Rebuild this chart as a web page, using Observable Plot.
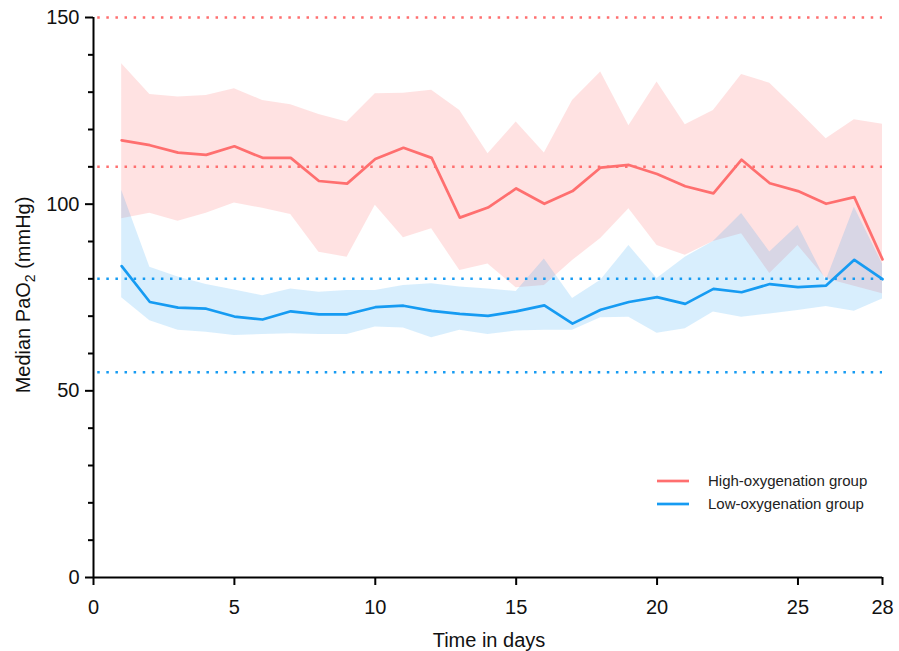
<!DOCTYPE html>
<html><head><meta charset="utf-8">
<script src="https://cdn.jsdelivr.net/npm/d3@7"></script>
<script src="https://cdn.jsdelivr.net/npm/@observablehq/plot@0.6"></script>
<style>
body{margin:0;background:#fff;font-family:"Liberation Sans",Arial,sans-serif}
#chart{position:relative;width:899px;height:651px}
</style>
</head><body><div id="chart"></div>
<script>
const days = [1,2,3,4,5,6,7,8,9,10,11,12,13,14,15,16,17,18,19,20,21,22,23,24,25,26,27,28];
const highMedian = [117.1,115.8,113.8,113.2,115.5,112.4,112.4,106.2,105.5,112.1,115.1,112.4,96.4,99.1,104.2,100.1,103.5,109.8,110.5,108.1,104.8,102.9,111.9,105.6,103.5,100.1,101.9,85.2];
const highUpper = [137.6,129.4,128.7,129.1,130.9,127.8,126.6,124.0,122.0,129.6,129.7,130.5,125.1,113.5,122.0,113.7,127.8,135.4,121.0,132.7,121.3,125.1,134.7,132.4,125.1,117.5,122.6,121.4];
const highLower = [96.1,97.6,95.4,97.6,100.3,98.9,97.2,87.1,85.8,99.7,91.0,93.4,82.2,84.0,77.6,78.2,84.9,90.8,98.8,88.9,86.3,90.0,92.1,81.4,88.9,80.0,78.0,76.0];
const lowMedian = [83.4,73.8,72.3,72.0,69.9,69.1,71.3,70.5,70.5,72.4,72.8,71.4,70.6,70.1,71.3,72.9,68.0,71.7,73.8,75.1,73.3,77.3,76.4,78.6,77.8,78.2,85.1,79.9];
const lowUpper = [103.7,83.1,80.5,78.5,77.0,75.5,77.3,76.4,76.9,76.9,78.2,78.7,77.8,77.3,76.6,85.3,74.7,79.6,88.9,80.1,85.8,90.0,97.5,87.2,94.3,79.5,99.2,84.0];
const lowLower = [74.9,68.8,66.2,65.7,64.8,65.1,65.3,65.1,65.1,67.1,66.8,64.2,66.2,65.1,66.0,66.2,66.2,69.6,69.7,65.4,66.6,71.1,69.7,70.6,71.5,72.6,71.3,74.6];
const highRefs = [150, 110];
const lowRefs = [80, 55];
const xTicks = [0, 5, 10, 15, 20, 25, 28];
const yTicks = [0, 50, 100, 150];
const yMinorTicks = [10, 20, 30, 40, 60, 70, 80, 90, 110, 120, 130, 140];
const seriesNames = ["High-oxygenation group", "Low-oxygenation group"];
const seriesColors = ["#ff6f6f", "#169bf2"];
const xTitle = "Time in days";

const high = days.map((d, i) => ({day: d, med: highMedian[i], lo: highLower[i], hi: highUpper[i]}));
const low = days.map((d, i) => ({day: d, med: lowMedian[i], lo: lowLower[i], hi: lowUpper[i]}));

const ff = '"Liberation Sans", Arial, sans-serif';
const plot = Plot.plot({
  width: 899, height: 651,
  marginLeft: 93, marginRight: 17, marginTop: 17, marginBottom: 74,
  x: {domain: [0, 28]},
  y: {domain: [0, 150]},
  style: {fontFamily: ff, fontSize: "20px", color: "#111", background: "#fff"},
  marks: [
    Plot.areaY(high, {x: "day", y1: "lo", y2: "hi", fill: seriesColors[0], fillOpacity: 0.2}),
    Plot.areaY(low, {x: "day", y1: "lo", y2: "hi", fill: seriesColors[1], fillOpacity: 0.17}),
    Plot.ruleY(highRefs, {stroke: seriesColors[0], strokeWidth: 2.5, strokeDasharray: "2.5,6.6", x1: 0.15, x2: 28}),
    Plot.ruleY(lowRefs, {stroke: seriesColors[1], strokeWidth: 2.5, strokeDasharray: "2.5,6.6", x1: 0.15, x2: 28}),
    Plot.line(high, {x: "day", y: "med", stroke: seriesColors[0], strokeWidth: 2.7}),
    Plot.line(low, {x: "day", y: "med", stroke: seriesColors[1], strokeWidth: 2.7}),
    Plot.axisY({ticks: yMinorTicks, tickSize: 5, text: null, label: null, strokeWidth: 2, stroke: "#000"}),
    Plot.axisY({ticks: yTicks, tickSize: 8, tickPadding: 6, label: null, strokeWidth: 2, stroke: "#000", fontSize: 20}),
    Plot.axisX({ticks: xTicks, tickSize: 8, tickPadding: 14, label: null, strokeWidth: 2, stroke: "#000", fontSize: 20}),
    Plot.ruleX([0], {strokeWidth: 2, stroke: "#000"}),
    Plot.ruleY([0], {strokeWidth: 2, stroke: "#000"})
  ]
});
document.getElementById("chart").appendChild(plot);

const svg = d3.select(plot);
// x axis title
svg.append("text").attr("x", 489).attr("y", 647).attr("text-anchor", "middle")
  .attr("font-family", ff).attr("font-size", 20).attr("fill", "#111").text(xTitle);
// y axis title with subscript
const yt = svg.append("text").attr("transform", "translate(30,295) rotate(-90)")
  .attr("text-anchor", "middle").attr("font-family", ff).attr("font-size", 20).attr("fill", "#111");
yt.append("tspan").text("Median PaO");
yt.append("tspan").attr("font-size", 14).attr("dy", 5).text("2");
yt.append("tspan").attr("dy", -5).text(" (mmHg)");
// legend
seriesNames.forEach((name, i) => {
  const y = 481 + i * 23;
  svg.append("line").attr("x1", 657).attr("x2", 689).attr("y1", y).attr("y2", y)
    .attr("stroke", seriesColors[i]).attr("stroke-width", 2.7);
  svg.append("text").attr("x", 708).attr("y", y).attr("dy", "0.35em").attr("text-anchor", "start")
    .attr("font-family", ff).attr("font-size", 15).attr("fill", "#222").text(name);
});
</script>
</body></html>
